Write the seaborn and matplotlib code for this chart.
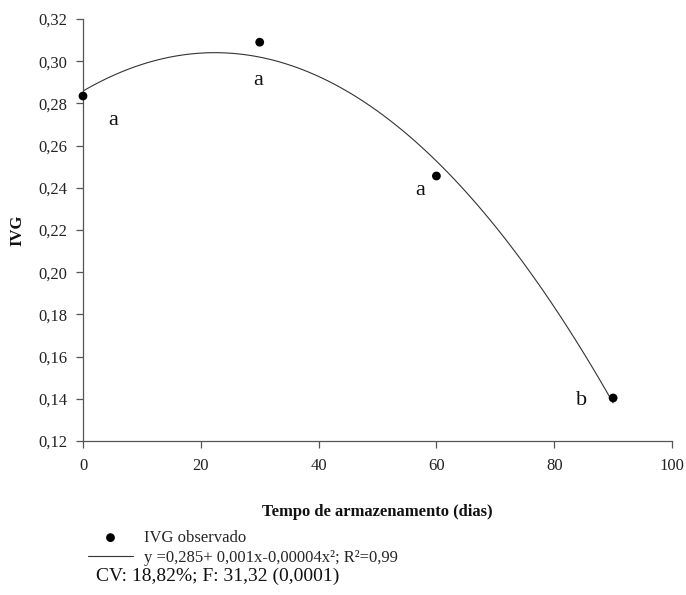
import matplotlib
matplotlib.use("Agg")
import matplotlib.pyplot as plt
from matplotlib.ticker import FuncFormatter
import seaborn as sns
import pandas as pd

# ---- data ----
dias = [0, 30, 60, 90]
ivg = [0.2835, 0.309, 0.2456, 0.1404]
letras = ["a", "a", "a", "b"]
x_ticks = [0, 20, 40, 60, 80, 100]
y_ticks = [0.12, 0.14, 0.16, 0.18, 0.20, 0.22, 0.24, 0.26, 0.28, 0.30, 0.32]
label_pontos = "IVG observado"
label_curva = "y =0,285+ 0,001x-0,00004x²; R²=0,99"
texto_cv = "CV: 18,82%; F: 31,32 (0,0001)"
xlabel = "Tempo de armazenamento (dias)"
ylabel = "IVG"

# offsets (pixels) for the significance letters
letter_offsets = [(30, -29), (-2, -43), (-16, -19), (-32, -7)]

df = pd.DataFrame({"dias": dias, "ivg": ivg})

sns.set_theme(style="ticks")
plt.rcParams["font.family"] = ["Liberation Serif", "DejaVu Serif"]

fig = plt.figure(figsize=(6.86, 5.95), dpi=100)
ax = fig.add_axes([83 / 686, 1 - 441 / 595, (672 - 83) / 686, (441 - 19) / 595])

sns.regplot(data=df, x="dias", y="ivg", order=2, ci=None, truncate=True, ax=ax,
            label=label_pontos,
            scatter_kws=dict(s=40, color="black", edgecolor="none", zorder=3,
                             alpha=1, clip_on=False),
            line_kws=dict(color="#333333", lw=0.8, label=label_curva))

for xi, yi, lt, off in zip(dias, ivg, letras, letter_offsets):
    ax.annotate(lt, (xi, yi), xytext=off, textcoords="offset pixels",
                ha="center", va="baseline", fontsize=16, color="#111111")

ax.set_xlim(0, 100)
ax.set_ylim(0.12, 0.32)
ax.set_xticks(x_ticks)
ax.set_yticks(y_ticks)
ax.yaxis.set_major_formatter(FuncFormatter(lambda v, p: f"{v:.2f}".replace(".", ",")))
ax.xaxis.set_major_formatter(FuncFormatter(lambda v, p: f"{v:.0f}"))
ax.tick_params(axis="both", direction="out", length=5, width=0.9, color="#555555",
               labelsize=12, labelcolor="#222222")
ax.tick_params(axis="x", pad=7)
ax.tick_params(axis="y", pad=6)
for side in ["top", "right"]:
    ax.spines[side].set_visible(False)
for side in ["left", "bottom"]:
    ax.spines[side].set_color("#555555")
    ax.spines[side].set_linewidth(0.9)

ax.set_xlabel(xlabel, fontsize=12, fontweight="bold", labelpad=22, color="#111111")
ax.set_ylabel(ylabel, fontsize=12, fontweight="bold", color="#111111", va="center")
ax.yaxis.set_label_coords((17 - 83) / 589, 0.5)

handles, labels = ax.get_legend_handles_labels()
order = [labels.index(label_pontos), labels.index(label_curva)]
handles = [handles[i] for i in order]
labels = [labels[i] for i in order]
leg = fig.legend(handles, labels, loc="upper left", bbox_to_anchor=(88 / 686, 1 - 530 / 595),
                 frameon=False, fontsize=12, handlelength=2.7, handletextpad=0.65,
                 labelspacing=0.25, borderaxespad=0, borderpad=0, markerscale=1.0)

fig.text(96 / 686, 1 - 576 / 595, texto_cv, fontsize=14, ha="left", va="center",
         color="#111111")

fig.savefig("out.png", dpi=100)
